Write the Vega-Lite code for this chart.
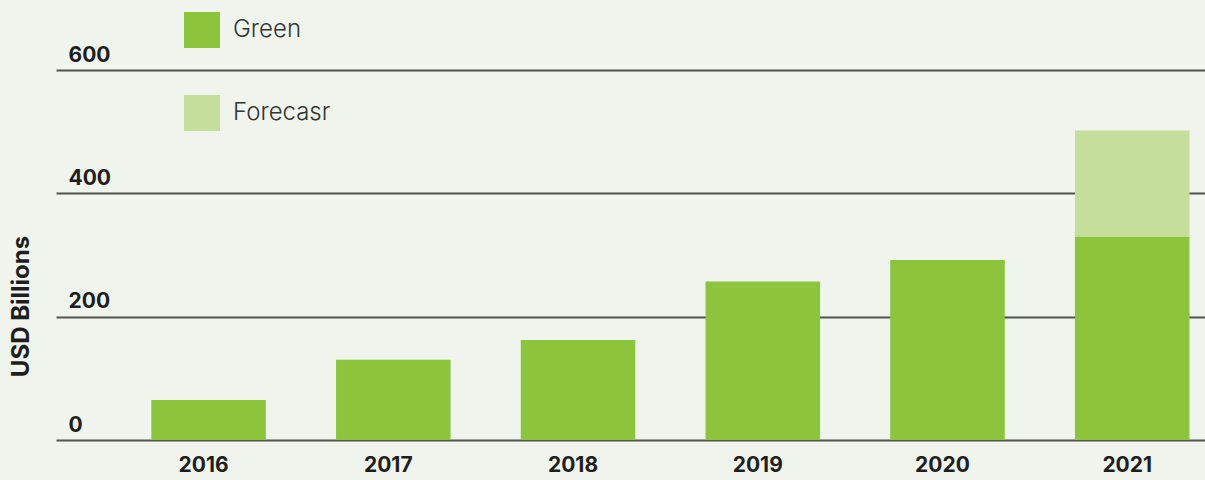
{
  "$schema": "https://vega.github.io/schema/vega-lite/v6.json",
  "autosize": {"type": "none"},
  "width": 1149,
  "height": 370,
  "padding": {"left": 56, "top": 70, "right": 0, "bottom": 40},
  "background": "#eff5ed",
  "config": {"view": {"stroke": null}, "font": "Inter"},
  "data": {
    "values": [
      {"year": "2016", "type": "Green", "value": 65},
      {"year": "2017", "type": "Green", "value": 130},
      {"year": "2018", "type": "Green", "value": 162},
      {"year": "2019", "type": "Green", "value": 257},
      {"year": "2020", "type": "Green", "value": 292},
      {"year": "2021", "type": "Green", "value": 330},
      {"year": "2021", "type": "Forecasr", "value": 172}
    ]
  },
  "mark": {"type": "bar"},
  "encoding": {
    "x": {
      "field": "year",
      "type": "ordinal",
      "scale": {"paddingInner": 0.38, "paddingOuter": 0.3, "align": 0.86},
      "axis": {
        "title": null,
        "labelAngle": 0,
        "domain": false,
        "ticks": false,
        "tickSize": 0,
        "labelPadding": 14,
        "labelOffset": -5,
        "labelFontSize": 21,
        "labelFontWeight": "bold",
        "labelColor": "#1e1e1e"
      }
    },
    "y": {
      "field": "value",
      "type": "quantitative",
      "stack": "zero",
      "scale": {"domain": [0, 600], "nice": false},
      "axis": {
        "title": "USD Billions",
        "titleFontSize": 24,
        "titleFontWeight": "bold",
        "titleColor": "#1e1e1e",
        "titleX": -35,
        "titleY": 236,
        "titleAngle": -90,
        "titleAlign": "center",
        "titleBaseline": "middle",
        "values": [0, 200, 400, 600],
        "domain": false,
        "ticks": false,
        "tickSize": 0,
        "grid": true,
        "gridColor": "#4f554f",
        "gridWidth": 2,
        "gridOpacity": 1,
        "labelAlign": "left",
        "labelBaseline": "alphabetic",
        "labelPadding": -12,
        "labelOffset": -9,
        "labelFontSize": 21,
        "labelFontWeight": "bold",
        "labelColor": "#1e1e1e"
      }
    },
    "color": {
      "field": "type",
      "type": "nominal",
      "scale": {"domain": ["Green", "Forecasr"], "range": ["#8cc43c", "#c6de9b"]},
      "legend": {
        "title": null,
        "orient": "none",
        "legendX": 128,
        "legendY": -58,
        "symbolType": "square",
        "symbolSize": 1296,
        "symbolStrokeWidth": 0,
        "rowPadding": 47,
        "labelOffset": 13,
        "labelFontSize": 24,
        "labelFontWeight": 300,
        "labelColor": "#333333"
      }
    },
    "order": {"field": "type", "sort": "descending"}
  }
}
